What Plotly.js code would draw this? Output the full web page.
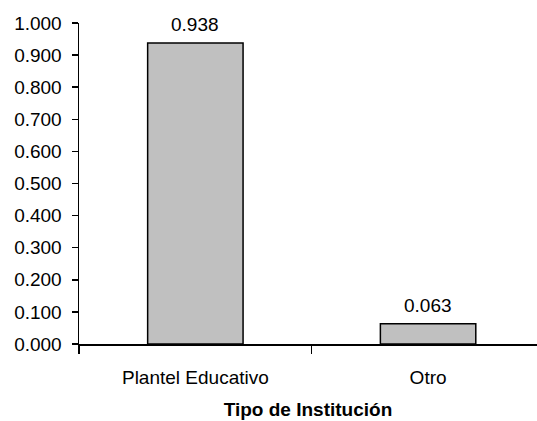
<!DOCTYPE html>
<html>
<head>
<meta charset="utf-8">
<script src="https://cdn.plot.ly/plotly-3.0.1.min.js"></script>
<style>
html,body{margin:0;padding:0;background:#fff;}
#chart{width:537px;height:421px;}
</style>
</head>
<body>
<div id="chart"></div>
<script>
const categories = ["Plantel Educativo", "Otro"];
const values = [0.938, 0.063];
const valueLabels = ["0.938", "0.063"];
const yTickValues = [0, 0.1, 0.2, 0.3, 0.4, 0.5, 0.6, 0.7, 0.8, 0.9, 1.0];
const yTickLabels = ["0.000","0.100","0.200","0.300","0.400","0.500","0.600","0.700","0.800","0.900","1.000"];
const xTitle = "Tipo de Institución";

const FONT = "Arial, 'Liberation Sans', sans-serif";

const trace = {
  type: "bar",
  x: categories,
  y: values,
  marker: {color: "#c0c0c0", line: {color: "#000000", width: 1.5}},
  hoverinfo: "none"
};

const annotations = categories.map((c, i) => ({
  x: c, y: values[i], xref: "x", yref: "y",
  text: valueLabels[i], showarrow: false,
  yanchor: "bottom", yshift: 6,
  font: {family: FONT, size: 19, color: "#000"}
}));

const layout = {
  width: 537, height: 421,
  margin: {l: 79, r: 0, t: 23, b: 77, pad: 0},
  paper_bgcolor: "#ffffff",
  plot_bgcolor: "#ffffff",
  showlegend: false,
  bargap: 0.59,
  font: {family: FONT, size: 19, color: "#000"},
  xaxis: {
    type: "category",
    range: [-0.5, 1.468],
    tickson: "boundaries",
    ticks: "outside", ticklen: 8, tickwidth: 1.5, tickcolor: "#000",
    ticklabelstandoff: 16,
    showline: true, linecolor: "#000", linewidth: 1.5,
    showgrid: false, zeroline: false,
    automargin: false,
    tickfont: {family: FONT, size: 19, color: "#000"},
    title: {text: xTitle, font: {family: FONT, size: 19, color: "#000", weight: "bold"}, standoff: 15},
    fixedrange: true
  },
  yaxis: {
    range: [0, 1],
    tickvals: yTickValues, ticktext: yTickLabels,
    ticks: "outside", ticklen: 6, tickwidth: 1.5, tickcolor: "#000",
    ticklabelstandoff: 6,
    showline: true, linecolor: "#000", linewidth: 1.5,
    showgrid: false, zeroline: false,
    automargin: false,
    tickfont: {family: FONT, size: 19, color: "#000"},
    fixedrange: true
  },
  annotations: annotations
};

Plotly.newPlot("chart", [trace], layout, {displayModeBar: false, staticPlot: true});
</script>
</body>
</html>
